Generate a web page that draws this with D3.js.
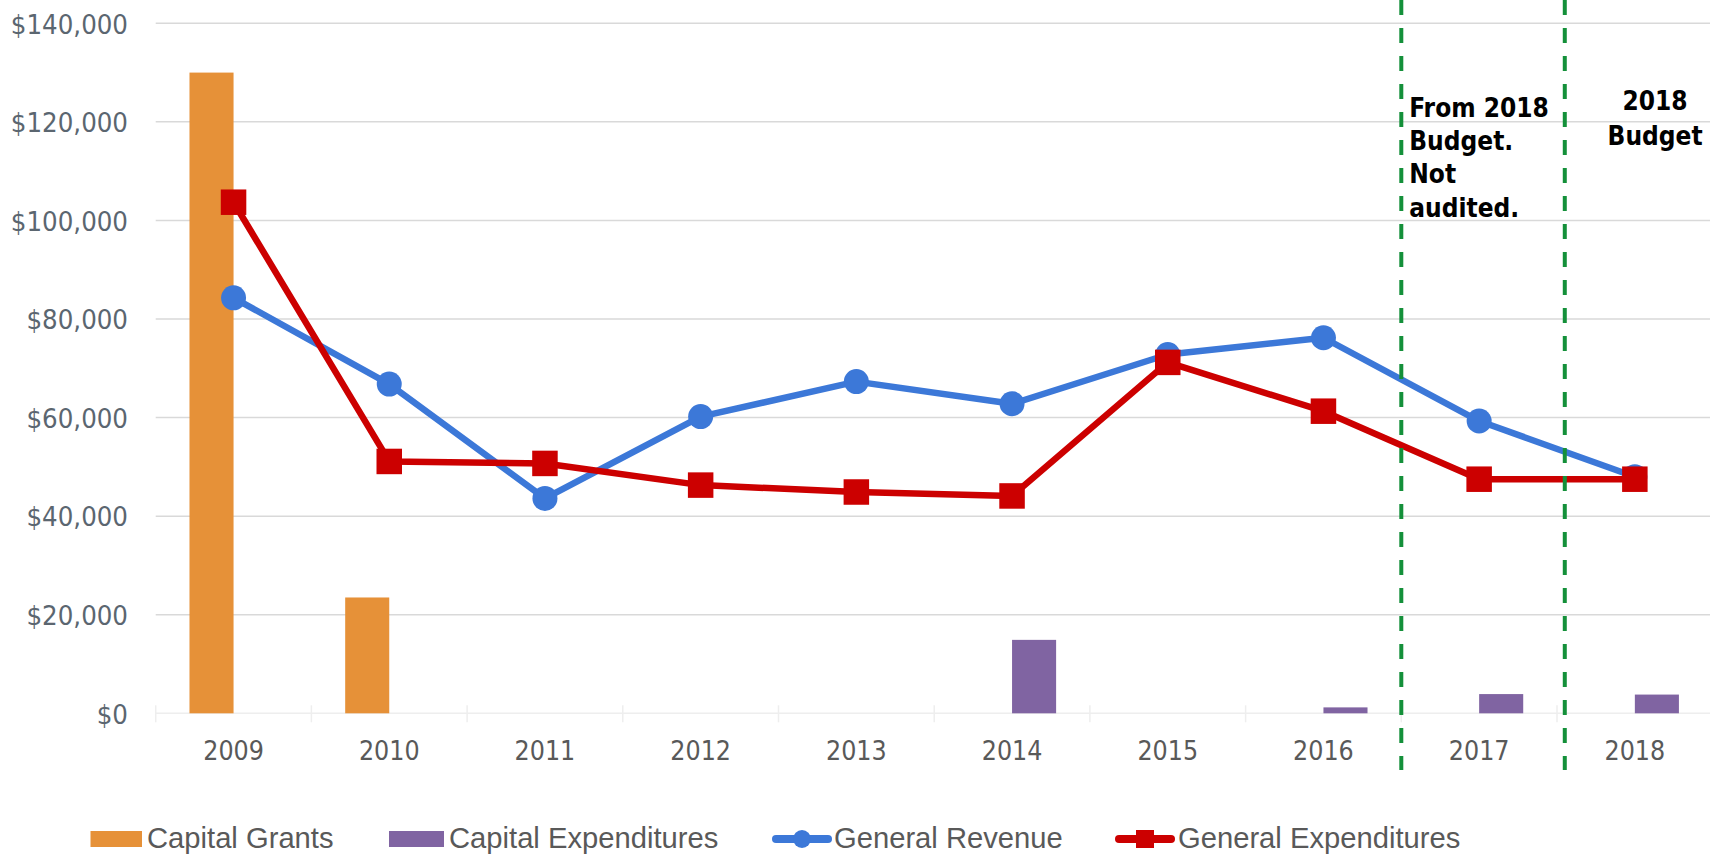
<!DOCTYPE html>
<html>
<head>
<meta charset="utf-8">
<script src="https://cdn.jsdelivr.net/npm/d3@7"></script>
<style>
html,body{margin:0;padding:0;background:#fff;}
svg{display:block;}
</style>
</head>
<body>
<svg id="chart" width="1710" height="856"></svg>
<script>
const years = ["2009","2010","2011","2012","2013","2014","2015","2016","2017","2018"];
const capitalGrants = [130000, 23500, 0, 0, 0, 0, 0, 0, 0, 0];
const capitalExpenditures = [0, 0, 0, 0, 0, 14900, 0, 1200, 3900, 3800];
const generalRevenue = [84300, 66800, 43600, 60200, 67300, 62800, 72800, 76200, 59300, 48000];
const generalExpenditures = [103700, 51100, 50700, 46300, 44900, 44100, 71200, 61300, 47500, 47500];
const yTicks = [0, 20000, 40000, 60000, 80000, 100000, 120000, 140000];
const dividerIdx = [7.5, 8.55];
const seriesNames = ["Capital Grants","Capital Expenditures","General Revenue","General Expenditures"];
const colors = {grants:"#e69138", capex:"#8064a2", rev:"#3c78d8", exp:"#cc0000", div:"#14903a"};

(function(){
const svg = d3.select("#chart");
const W = 1710, H = 856;
const pLeft = 155.7, pRight = 1712.7, pTop = 23.3, pBottom = 713.3;
const axisFont = "'DejaVu Sans Condensed', 'DejaVu Sans', sans-serif";

const x = d3.scaleBand().domain(years).range([pLeft, pRight]).padding(0);
const bw = x.bandwidth();
const cx = d => x(d) + bw / 2;
const xi = d3.scaleLinear().domain([-0.5, years.length - 0.5]).range([pLeft, pRight]);
const y = d3.scaleLinear().domain([0, 140000]).range([pBottom, pTop]);
const barW = bw * 0.283;
const fmt = v => "$" + d3.format(",")(v);

// gridlines
svg.append("g").selectAll("line").data(yTicks.filter(t => t > 0)).join("line")
  .attr("x1", pLeft).attr("x2", W).attr("y1", d => y(d)).attr("y2", d => y(d))
  .attr("stroke", "#d9d9d9").attr("stroke-width", 1.5);

// y labels
const yAxis = d3.axisLeft(y).tickValues(yTicks).tickFormat(fmt).tickSize(0).tickPadding(0);
const yg = svg.append("g").attr("transform", `translate(128,0)`).call(yAxis);
yg.select(".domain").remove();
yg.selectAll("text").attr("font-family", axisFont).attr("font-stretch", "condensed")
  .attr("font-size", 27.3).attr("fill", "#5b6670").attr("dy", "0.36em");

// x axis baseline and ticks
svg.append("line").attr("x1", pLeft).attr("x2", W).attr("y1", pBottom).attr("y2", pBottom)
  .attr("stroke", "#eeeeee").attr("stroke-width", 1.5);
svg.append("g").selectAll("line").data(d3.range(years.length + 1)).join("line")
  .attr("x1", d => xi(d - 0.5)).attr("x2", d => xi(d - 0.5))
  .attr("y1", pBottom - 8).attr("y2", pBottom + 9)
  .attr("stroke", "#eeeeee").attr("stroke-width", 1.5);

// x labels
const xAxis = d3.axisBottom(x).tickSize(0).tickPadding(0);
const xg = svg.append("g").attr("transform", `translate(0,${pBottom})`).call(xAxis);
xg.select(".domain").remove();
xg.selectAll("text").attr("font-family", axisFont).attr("font-stretch", "condensed")
  .attr("font-size", 26.5).attr("fill", "#595959").attr("dy", 0).attr("y", 46.5);

// bars
svg.append("g").selectAll("rect").data(years.map((yr, i) => ({yr, v: capitalGrants[i]})).filter(d => d.v > 0)).join("rect")
  .attr("x", d => cx(d.yr) - barW).attr("width", barW)
  .attr("y", d => y(d.v)).attr("height", d => y(0) - y(d.v))
  .attr("fill", colors.grants);
svg.append("g").selectAll("rect").data(years.map((yr, i) => ({yr, v: capitalExpenditures[i]})).filter(d => d.v > 0)).join("rect")
  .attr("x", d => cx(d.yr)).attr("width", barW)
  .attr("y", d => y(d.v)).attr("height", d => y(0) - y(d.v))
  .attr("fill", colors.capex);

// lines
const line = d3.line().x(d => cx(d.yr)).y(d => y(d.v));
const revData = years.map((yr, i) => ({yr, v: generalRevenue[i]}));
const expData = years.map((yr, i) => ({yr, v: generalExpenditures[i]}));

svg.append("path").datum(revData).attr("d", line).attr("fill", "none")
  .attr("stroke", colors.rev).attr("stroke-width", 6.5).attr("stroke-linejoin", "round");
svg.append("g").selectAll("circle").data(revData).join("circle")
  .attr("cx", d => cx(d.yr)).attr("cy", d => y(d.v)).attr("r", 12.5).attr("fill", colors.rev);

svg.append("path").datum(expData).attr("d", line).attr("fill", "none")
  .attr("stroke", colors.exp).attr("stroke-width", 6.5).attr("stroke-linejoin", "round");
const sq = 25.5;
svg.append("g").selectAll("rect").data(expData).join("rect")
  .attr("x", d => cx(d.yr) - sq / 2).attr("y", d => y(d.v) - sq / 2)
  .attr("width", sq).attr("height", sq).attr("fill", colors.exp);

// dividers
svg.append("g").selectAll("line").data(dividerIdx).join("line")
  .attr("x1", d => xi(d)).attr("x2", d => xi(d)).attr("y1", 0).attr("y2", 770)
  .attr("stroke", colors.div).attr("stroke-width", 4).attr("stroke-dasharray", "15,13");

// annotations
const ann1 = ["From 2018", "Budget.", "Not", "audited."];
svg.append("text").attr("font-family", axisFont).attr("font-stretch", "condensed").attr("font-weight", "bold")
  .attr("font-size", 26).attr("fill", "#000")
  .selectAll("tspan").data(ann1).join("tspan")
  .attr("x", xi(dividerIdx[0]) + 8).attr("y", (d, i) => 116.5 + i * 33.4).text(d => d);
const ann2 = ["2018", "Budget"];
svg.append("text").attr("font-family", axisFont).attr("font-stretch", "condensed").attr("font-weight", "bold")
  .attr("font-size", 26).attr("fill", "#000").attr("text-anchor", "middle")
  .selectAll("tspan").data(ann2).join("tspan")
  .attr("x", xi(9.13)).attr("y", (d, i) => 110 + i * 35).text(d => d);

// legend
const legY = 839;
const lg = svg.append("g").attr("font-family", "Liberation Sans, Arial, sans-serif").attr("font-size", 29.2).attr("fill", "#595959");
const legendItems = [
  {name: seriesNames[0], type: "bar", color: colors.grants, x0: 90.5, x1: 142, tx: 147},
  {name: seriesNames[1], type: "bar", color: colors.capex, x0: 389, x1: 444, tx: 449},
  {name: seriesNames[2], type: "circle", color: colors.rev, x0: 772, x1: 832, tx: 834},
  {name: seriesNames[3], type: "square", color: colors.exp, x0: 1115, x1: 1175, tx: 1178}
];
legendItems.forEach(it => {
  if (it.type === "bar") {
    lg.append("rect").attr("x", it.x0).attr("y", legY - 8).attr("width", it.x1 - it.x0).attr("height", 16).attr("fill", it.color);
  } else {
    lg.append("line").attr("x1", it.x0 + 4).attr("x2", it.x1 - 4).attr("y1", legY).attr("y2", legY)
      .attr("stroke", it.color).attr("stroke-width", 8).attr("stroke-linecap", "round");
    const mx = (it.x0 + it.x1) / 2;
    if (it.type === "circle") lg.append("circle").attr("cx", mx).attr("cy", legY).attr("r", 9).attr("fill", it.color);
    else lg.append("rect").attr("x", mx - 9).attr("y", legY - 9).attr("width", 18).attr("height", 18).attr("fill", it.color);
  }
  lg.append("text").attr("x", it.tx).attr("y", legY + 0.5).attr("dy", "0.3em").text(it.name);
});
})();
</script>
</body>
</html>
